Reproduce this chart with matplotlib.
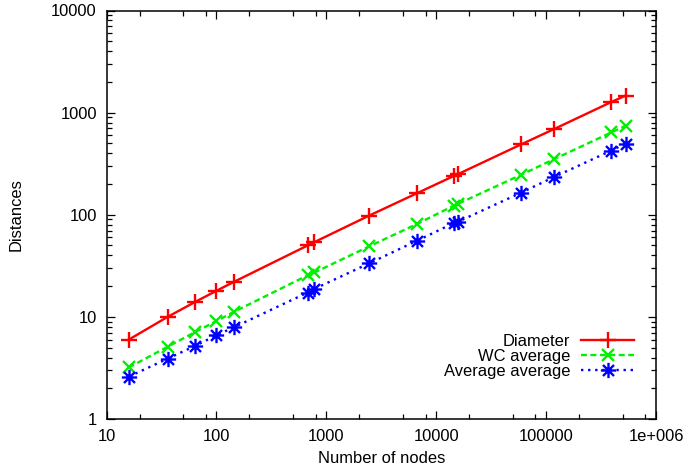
import numpy as np
import matplotlib
matplotlib.use("Agg")
import matplotlib.pyplot as plt
from matplotlib.path import Path
from matplotlib.ticker import LogLocator, FixedLocator, NullFormatter

plt.rcParams['font.family'] = ['Liberation Sans', 'DejaVu Sans']

nodes = [16, 36, 64, 100, 144, 676, 780, 2450, 6650, 14500, 15800, 59600, 118000, 392000, 530000]
diameter = [6, 10, 14, 18, 22, 50, 54, 98, 162, 240, 250, 490, 690, 1270, 1470]
wc_average = [3.2, 5.1, 7.1, 9.1, 11.2, 25.5, 27.2, 49, 81, 123, 128, 247, 350, 640, 745]
avg_average = [2.6, 3.9, 5.2, 6.6, 7.9, 17.3, 18.8, 33.4, 55.5, 83, 85.5, 165, 234, 425, 498]

series_labels = ["Diameter", "WC average", "Average average"]
x_ticks = [10, 100, 1000, 10000, 100000, 1000000]
x_tick_labels = ["10", "100", "1000", "10000", "100000", "1e+006"]
y_ticks = [1, 10, 100, 1000, 10000]
y_tick_labels = ["1", "10", "100", "1000", "10000"]

# gnuplot-style asterisk marker (+ and x combined)
star_path = Path(
    [(-1, 0), (1, 0), (0, -1), (0, 1), (-0.72, -0.72), (0.72, 0.72), (-0.72, 0.72), (0.72, -0.72)],
    [Path.MOVETO, Path.LINETO] * 4)

FS = 11.9

fig = plt.figure(figsize=(6.89, 4.75), dpi=100)
ax = fig.add_axes([106.5 / 689, 1 - 419 / 475, (656 - 106.5) / 689, (419 - 10.5) / 475])

ax.plot(nodes, diameter, color='#ff0000', lw=1.7, ls='-', marker='+', ms=11, mew=1.7,
        label=series_labels[0])
ax.plot(nodes, wc_average, color='#00f000', lw=1.7, ls=(0, (2.5, 1.5)), marker='x', ms=9, mew=1.7,
        label=series_labels[1])
ax.plot(nodes, avg_average, color='#0000ff', lw=1.7, ls=(0, (1, 2.0)), marker=star_path, ms=11, mew=1.7,
        label=series_labels[2])

ax.set_xscale('log')
ax.set_yscale('log')
ax.set_xlim(10, 1e6)
ax.set_ylim(1, 10000)

ax.xaxis.set_major_locator(FixedLocator(x_ticks))
ax.set_xticklabels(x_tick_labels)
ax.xaxis.set_minor_locator(LogLocator(base=10, subs=[2, 5, 8]))
ax.xaxis.set_minor_formatter(NullFormatter())
ax.yaxis.set_major_locator(FixedLocator(y_ticks))
ax.set_yticklabels(y_tick_labels)
ax.yaxis.set_minor_locator(LogLocator(base=10, subs=np.arange(2, 10)))
ax.yaxis.set_minor_formatter(NullFormatter())

ax.tick_params(which='both', direction='in', top=True, right=True, width=0.9, labelsize=FS,
               colors='black')
ax.tick_params(which='major', length=6)
ax.tick_params(which='minor', length=3.5)
ax.tick_params(axis='x', which='major', pad=7)
ax.tick_params(axis='y', which='major', pad=7)
for s in ax.spines.values():
    s.set_linewidth(1.1)

ax.set_xlabel("Number of nodes", fontsize=FS, labelpad=5)
ax.set_ylabel("Distances", fontsize=FS, labelpad=20)

leg = ax.legend(loc='center right', bbox_to_anchor=(634 / 689, 1 - 356.7 / 475),
                bbox_transform=fig.transFigure, frameon=False, markerfirst=False,
                fontsize=FS, handlelength=3.2, handletextpad=0.65, labelspacing=0.0,
                borderpad=0, borderaxespad=0)
for t in leg.get_texts():
    t.set_ha('right')

fig.savefig("out.png", dpi=100)
